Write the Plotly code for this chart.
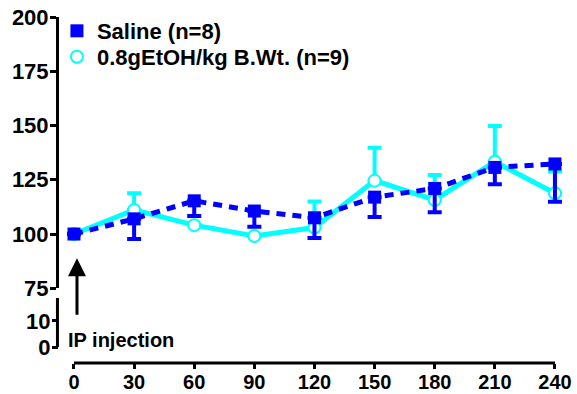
import plotly.graph_objects as go

times = [0, 30, 60, 90, 120, 150, 180, 210, 240]
saline_mean = [100, 107, 115.3, 110.6, 107.5, 117, 121, 130.7, 132.3]
saline_sem = [0, 9.3, 7, 7.2, 9.3, 9.2, 11, 7.8, 17.4]
etoh_mean = [100, 111.1, 104.1, 99.1, 103, 124.6, 115.7, 133.3, 118.8]
etoh_sem = [0, 7.7, 0, 0, 12, 15.2, 11.5, 16.5, 10]
x_ticks = [0, 30, 60, 90, 120, 150, 180, 210, 240]
y_upper_ticks = [75, 100, 125, 150, 175, 200]
y_lower_ticks = [0, 10]

BLUE = "#0000FF"
CYAN = "#00FFFF"
FONT = "Liberation Sans"

fig = go.Figure()

# EtOH (drawn first, below)
fig.add_trace(go.Scatter(
    x=times, y=etoh_mean, mode="lines+markers", showlegend=False,
    line=dict(color=CYAN, width=5),
    marker=dict(symbol="circle", size=12, color="white", line=dict(color=CYAN, width=2)),
    error_y=dict(type="data", symmetric=False, array=etoh_sem, arrayminus=[0]*len(times),
                 color=CYAN, thickness=4, width=7),
    cliponaxis=False,
))
# Saline (on top)
fig.add_trace(go.Scatter(
    x=times, y=saline_mean, mode="lines+markers", showlegend=False,
    line=dict(color=BLUE, width=5, dash="9px,7px"),
    marker=dict(symbol="square", size=13, color=BLUE, line=dict(width=0)),
    error_y=dict(type="data", symmetric=False, array=[0]*len(times), arrayminus=saline_sem,
                 color=BLUE, thickness=4, width=7),
    cliponaxis=False,
))
# dummy trace so that the lower (broken) y segment is drawn
fig.add_trace(go.Scatter(x=[None], y=[None], yaxis="y2", showlegend=False,
                         hoverinfo="skip", mode="markers"))

# legend-only entries
fig.add_trace(go.Scatter(
    x=[None], y=[None], mode="markers", name="Saline (n=8)", legend="legend",
    marker=dict(symbol="square", size=13, color=BLUE),
))
fig.add_trace(go.Scatter(
    x=[None], y=[None], mode="markers", name="0.8gEtOH/kg B.Wt. (n=9)", legend="legend2",
    marker=dict(symbol="circle", size=12, color="white", line=dict(color=CYAN, width=2)),
))

tick_font_y = dict(family=FONT, size=22, color="black", weight="bold")
tick_font_x = dict(family=FONT, size=20, color="black", weight="bold")
common = dict(showgrid=False, zeroline=False, ticks="outside", tickcolor="black",
              tickwidth=3, automargin=False, linecolor="black", linewidth=3)

legend_font = dict(family=FONT, size=22, color="black", weight="bold")

fig.update_layout(
    width=577, height=394,
    margin=dict(l=59, r=2, t=17, b=31, autoexpand=False),
    paper_bgcolor="white", plot_bgcolor="white",
    xaxis=dict(range=[-7.48, 250], domain=[0, 1], anchor="y2", showline=False,
               tickvals=x_ticks, ticklen=5, tickfont=tick_font_x,
               ticklabelstandoff=-4, **common),
    yaxis=dict(range=[75, 200], domain=[0.2159, 1], anchor="x", showline=True,
               tickvals=y_upper_ticks, ticklen=6, tickfont=tick_font_y,
               ticklabelstandoff=-3, **common),
    yaxis2=dict(range=[-6.15, 18.85], domain=[0, 0.1879], anchor="x", showline=False,
                tickvals=y_lower_ticks, ticklen=6, tickfont=tick_font_y,
                ticklabelstandoff=-3, **common),
    showlegend=True,
    legend=dict(x=-0.004, y=0.9595, xanchor="left", yanchor="middle",
                bgcolor="rgba(0,0,0,0)", font=legend_font),
    legend2=dict(x=-0.004, y=0.8844, xanchor="left", yanchor="middle",
                 bgcolor="rgba(0,0,0,0)", font=legend_font),
    shapes=[
        # x axis line (starts at 0, offset from the y axis)
        dict(type="line", xref="x", yref="paper", x0=0, x1=240, y0=0, y1=0,
             line=dict(color="black", width=3)),
        # lower y-axis segment
        dict(type="line", xref="paper", yref="y2", x0=-0.003, x1=-0.003, y0=0, y1=18.85,
             line=dict(color="black", width=3)),
    ],
    annotations=[
        dict(text="IP injection", xref="paper", yref="paper", x=0.0136, y=0.0665,
             xanchor="left", yanchor="middle", showarrow=False,
             font=dict(family=FONT, size=20, color="black", weight="bold")),
        dict(text="", xref="x", yref="y", x=0, y=88.9, xshift=3,
             showarrow=True, axref="pixel", ayref="pixel", ax=0, ay=58,
             arrowhead=2, arrowsize=1.2, arrowwidth=3, arrowcolor="black"),
    ],
)

fig.write_html("out.html", config={"displayModeBar": False},
               post_script="document.body.style.margin='0px';")
